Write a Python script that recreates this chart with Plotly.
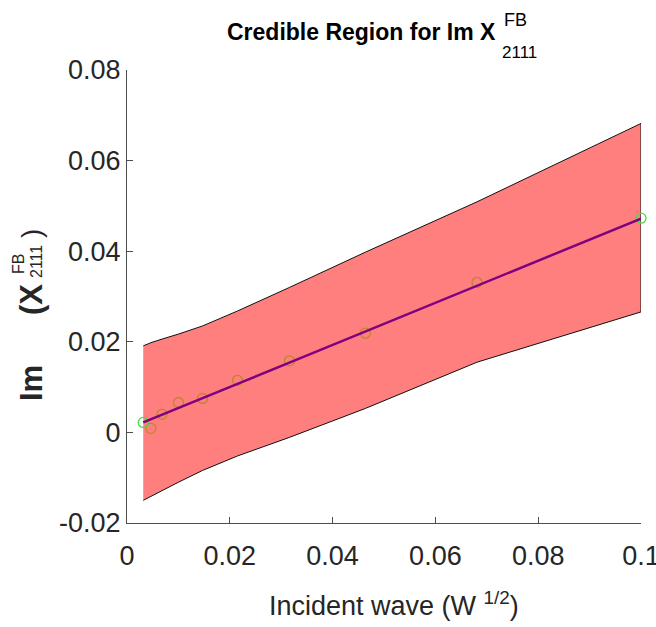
import plotly.graph_objects as go

# ---- data ----
x_wave = [0.00316, 0.00464, 0.00681, 0.0100, 0.0147, 0.0215, 0.0316, 0.0464, 0.0681, 0.1000]
y_obs = [0.0022, 0.0009, 0.0040, 0.0066, 0.0075, 0.0115, 0.0158, 0.0219, 0.0331, 0.0473]
y_fit = [0.0022, 0.0029, 0.0039, 0.0054, 0.0076, 0.0107, 0.0154, 0.0223, 0.0324, 0.0472]
y_upper = [0.0191, 0.0198, 0.0206, 0.0217, 0.0235, 0.0268, 0.0320, 0.0398, 0.0509, 0.0682]
y_lower = [-0.0150, -0.0141, -0.0128, -0.0110, -0.0084, -0.0052, -0.0011, 0.0053, 0.0155, 0.0266]
x_ticks = [0, 0.02, 0.04, 0.06, 0.08, 0.1]
x_tick_text = ["0", "0.02", "0.04", "0.06", "0.08", "0.1"]
y_ticks = [-0.02, 0, 0.02, 0.04, 0.06, 0.08]
y_tick_text = ["-0.02", "0", "0.02", "0.04", "0.06", "0.08"]

W, H = 656, 627
L, R, T, B = 127, 15, 70, 104
PW, PH = W - L - R, H - T - B

def px(x):
    return (x - L) / PW

def py(y):
    return (H - B - y) / PH

FONT = "Liberation Sans, Arial, sans-serif"
AX = "#4d4d4d"
TXT = "#262626"

fig = go.Figure()

# credible band
fig.add_trace(go.Scatter(
    x=x_wave + x_wave[::-1],
    y=y_upper + y_lower[::-1],
    fill="toself", fillcolor="#ff7f7f",
    line=dict(color="#111111", width=1),
    mode="lines", showlegend=False, hoverinfo="skip"))

# observed points: ends green, middle orange
mid = slice(1, len(x_wave) - 1)
fig.add_trace(go.Scatter(
    x=x_wave[mid], y=y_obs[mid], mode="markers", cliponaxis=False,
    marker=dict(symbol="circle-open", size=10, color="#b88a22", line=dict(width=1.3)),
    showlegend=False))
fig.add_trace(go.Scatter(
    x=[x_wave[0], x_wave[-1]], y=[y_obs[0], y_obs[-1]], mode="markers", cliponaxis=False,
    marker=dict(symbol="circle-open", size=10, color="#3ee03e", line=dict(width=1.3)),
    showlegend=False))

# fit line
fig.add_trace(go.Scatter(
    x=x_wave, y=y_fit, mode="lines",
    line=dict(color="#800080", width=2.5), showlegend=False))

ann = []
# title pieces
ann.append(dict(text="<b>Credible Region for Im X</b>", x=px(498), y=py(32),
                xanchor="right", yanchor="middle", font=dict(size=23, family=FONT, color="#000")))
ann.append(dict(text="FB", x=px(502), y=py(20), xanchor="left", yanchor="middle",
                font=dict(size=18, family=FONT, color="#000")))
ann.append(dict(text="2111", x=px(500), y=py(52), xanchor="left", yanchor="middle",
                font=dict(size=17, family=FONT, color="#000")))
# x label
ann.append(dict(text="Incident wave (W <sup>1/2</sup>)", x=px(394), y=py(604),
                xanchor="center", yanchor="middle", font=dict(size=27, family=FONT, color=TXT)))
# y label pieces (rotated)
ann.append(dict(text="<b>Im</b>", x=px(31), y=py(383), xanchor="center", yanchor="middle",
                textangle=-90, font=dict(size=31, family=FONT, color=TXT)))
ann.append(dict(text="<b>(X</b>", x=px(31), y=py(300), xanchor="center", yanchor="middle",
                textangle=-90, font=dict(size=31, family=FONT, color=TXT)))
ann.append(dict(text="FB", x=px(18), y=py(264), xanchor="center", yanchor="middle",
                textangle=-90, font=dict(size=16, family=FONT, color=TXT)))
ann.append(dict(text="2111", x=px(36), y=py(262), xanchor="center", yanchor="middle",
                textangle=-90, font=dict(size=16, family=FONT, color=TXT)))
ann.append(dict(text=")", x=px(32), y=py(234), xanchor="center", yanchor="middle",
                textangle=-90, font=dict(size=28, family=FONT, color=TXT)))
for a in ann:
    a.update(xref="paper", yref="paper", showarrow=False)

fig.update_layout(
    width=W, height=H,
    margin=dict(l=L, r=R, t=T, b=B, autoexpand=False),
    paper_bgcolor="white", plot_bgcolor="white",
    annotations=ann,
    xaxis=dict(range=[0, 0.1], tickvals=x_ticks, ticktext=x_tick_text, automargin=False,
               showline=True, linecolor=AX, linewidth=1.2, ticks="inside", ticklen=6,
               tickcolor=AX, showgrid=False, zeroline=False, ticklabeloverflow="allow",
               tickfont=dict(size=27, family=FONT, color=TXT), ticklabelstandoff=8),
    yaxis=dict(range=[-0.02, 0.08], tickvals=y_ticks, ticktext=y_tick_text, automargin=False,
               showline=True, linecolor=AX, linewidth=1.2, ticks="inside", ticklen=6,
               tickcolor=AX, showgrid=False, zeroline=False, ticklabeloverflow="allow",
               tickfont=dict(size=27, family=FONT, color=TXT), ticklabelstandoff=0),
)

fig.write_html("out.html")
